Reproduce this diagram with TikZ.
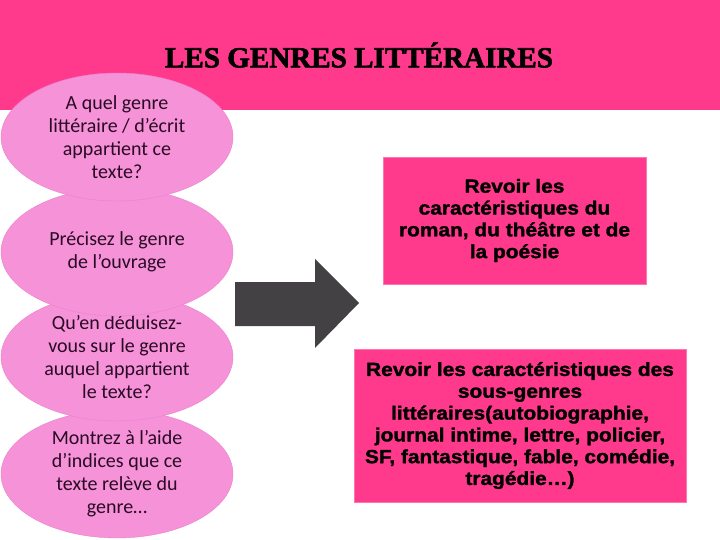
\documentclass[tikz,border=0pt]{standalone}
\usepackage{fontspec}
\setmainfont{Carlito}
\newfontfamily\boitefont[FakeBold=1.5,FakeStretch=1.1]{Liberation Sans Bold}
\newfontfamily\titrefont[FakeBold=2]{Liberation Serif Bold}
\usepackage{xcolor}
\usepackage{tikz}
\usetikzlibrary{shapes.geometric}

\definecolor{rose}{HTML}{FF3A8C}
\definecolor{bulleFond}{HTML}{F592D8}
\definecolor{bulleBord}{HTML}{EC80CC}
\definecolor{bulleTexte}{HTML}{2A0A24}
\definecolor{gris}{HTML}{434143}

\begin{document}
\begin{tikzpicture}[x=1pt, y=-1pt,
          bulle/.style = {shape=ellipse, fill=bulleFond, draw=bulleBord,
            minimum width=232pt, minimum height=128pt, inner sep=0pt,
            align=center, text=bulleTexte,
            font=\fontsize{20}{23}\selectfont},
          boite/.style = {shape=rectangle, fill=rose, draw=rose!70!white,
            inner sep=0pt, align=center, text=black,
            font=\boitefont\fontsize{19}{21.8}\selectfont}]
          \useasboundingbox (0,0) rectangle (720,540);
          % bandeau du titre
          \fill[rose] (0,0) rectangle (720,110);
          \node (titre) at (359,55) {\resizebox{388pt}{!}{\titrefont LES GENRES LITTÉRAIRES}};
          % les questions
          \node[bulle] (q4) at (117,474) {Montrez à l’aide\\d’indices que ce\\texte relève du\\genre…};
          \node[bulle] (q3) at (117,357) {Qu’en déduisez-\\vous sur le genre\\auquel appartient\\le texte?};
          \node[bulle] (q2) at (117,252) {Précisez le genre\\de l’ouvrage};
          \node[bulle] (q1) at (117,137) {A quel genre\\littéraire / d’écrit\\appartient ce\\texte?};
          % la fleche
          \fill[gris] (235,282) -- (315,282) -- (315,259) -- (359,303)
            -- (315,348) -- (315,326) -- (235,326) -- cycle;
          % les consignes
          \node[boite, minimum width=263pt, minimum height=127pt] (revoir1) at (514.5,220.5)
            {Revoir les\\caractéristiques du\\roman, du théâtre et de\\la poésie};
          \node[boite, minimum width=332pt, minimum height=153pt] (revoir2) at (520,425.5)
            {Revoir les caractéristiques des\\sous-genres\\littéraires(autobiographie,\\journal intime, lettre, policier,\\SF, fantastique, fable, comédie,\\tragédie…)};
        \end{tikzpicture}
\end{document}
